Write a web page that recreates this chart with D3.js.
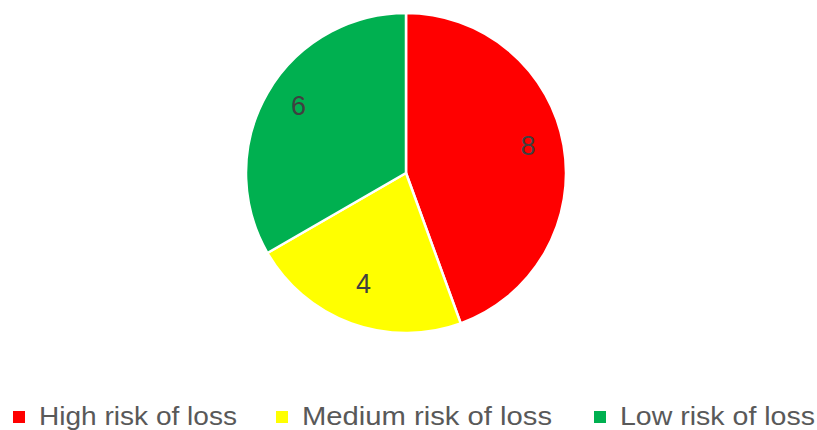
<!DOCTYPE html>
<html><head><meta charset="utf-8">
<script src="https://cdn.jsdelivr.net/npm/d3@7"></script>
<style>body{margin:0;background:#fff;}svg{display:block;}</style>
</head><body>
<svg id="chart" width="817" height="430"></svg>
<script>
const categories = ["High risk of loss", "Medium risk of loss", "Low risk of loss"];
const values = [8, 4, 6];
const colors = ["#FF0000", "#FFFF00", "#00B050"];

const W = 817, H = 430;
const cx = 406, cy = 173, R = 160, labelR = 124;
const svg = d3.select("#chart");

const pie = d3.pie().sort(null).value(d => d.v);
const data = pie(categories.map((c, i) => ({c, v: values[i], col: colors[i]})));
const arc = d3.arc().innerRadius(0).outerRadius(R);
const labelArc = d3.arc().innerRadius(labelR).outerRadius(labelR);

const g = svg.append("g").attr("transform", `translate(${cx},${cy})`);
g.selectAll("path").data(data).enter().append("path")
  .attr("d", arc).attr("fill", d => d.data.col)
  .attr("stroke", "#fff").attr("stroke-width", 2.5).attr("stroke-linejoin", "round");

g.selectAll("text").data(data).enter().append("text")
  .attr("transform", d => { const [x, y] = labelArc.centroid(d); return `translate(${x},${y - 6})`; })
  .attr("text-anchor", "middle").attr("dy", "0.36em")
  .attr("font-family", "Liberation Sans, Arial, sans-serif").attr("font-size", 27)
  .attr("fill", "#404040").text(d => d.data.v);

// legend
const legX = [13, 276, 594];
const legW = [198, 250, 195];
const lg = svg.append("g");
categories.forEach((c, i) => {
  lg.append("rect").attr("x", legX[i]).attr("y", 411).attr("width", 12).attr("height", 12).attr("fill", colors[i]);
  lg.append("text").attr("x", legX[i] + 26).attr("y", 425)
    .attr("font-family", "Liberation Sans, Arial, sans-serif").attr("font-size", 25)
    .attr("fill", "#595959").attr("textLength", legW[i]).attr("lengthAdjust", "spacingAndGlyphs")
    .text(c);
});
</script>
</body></html>
